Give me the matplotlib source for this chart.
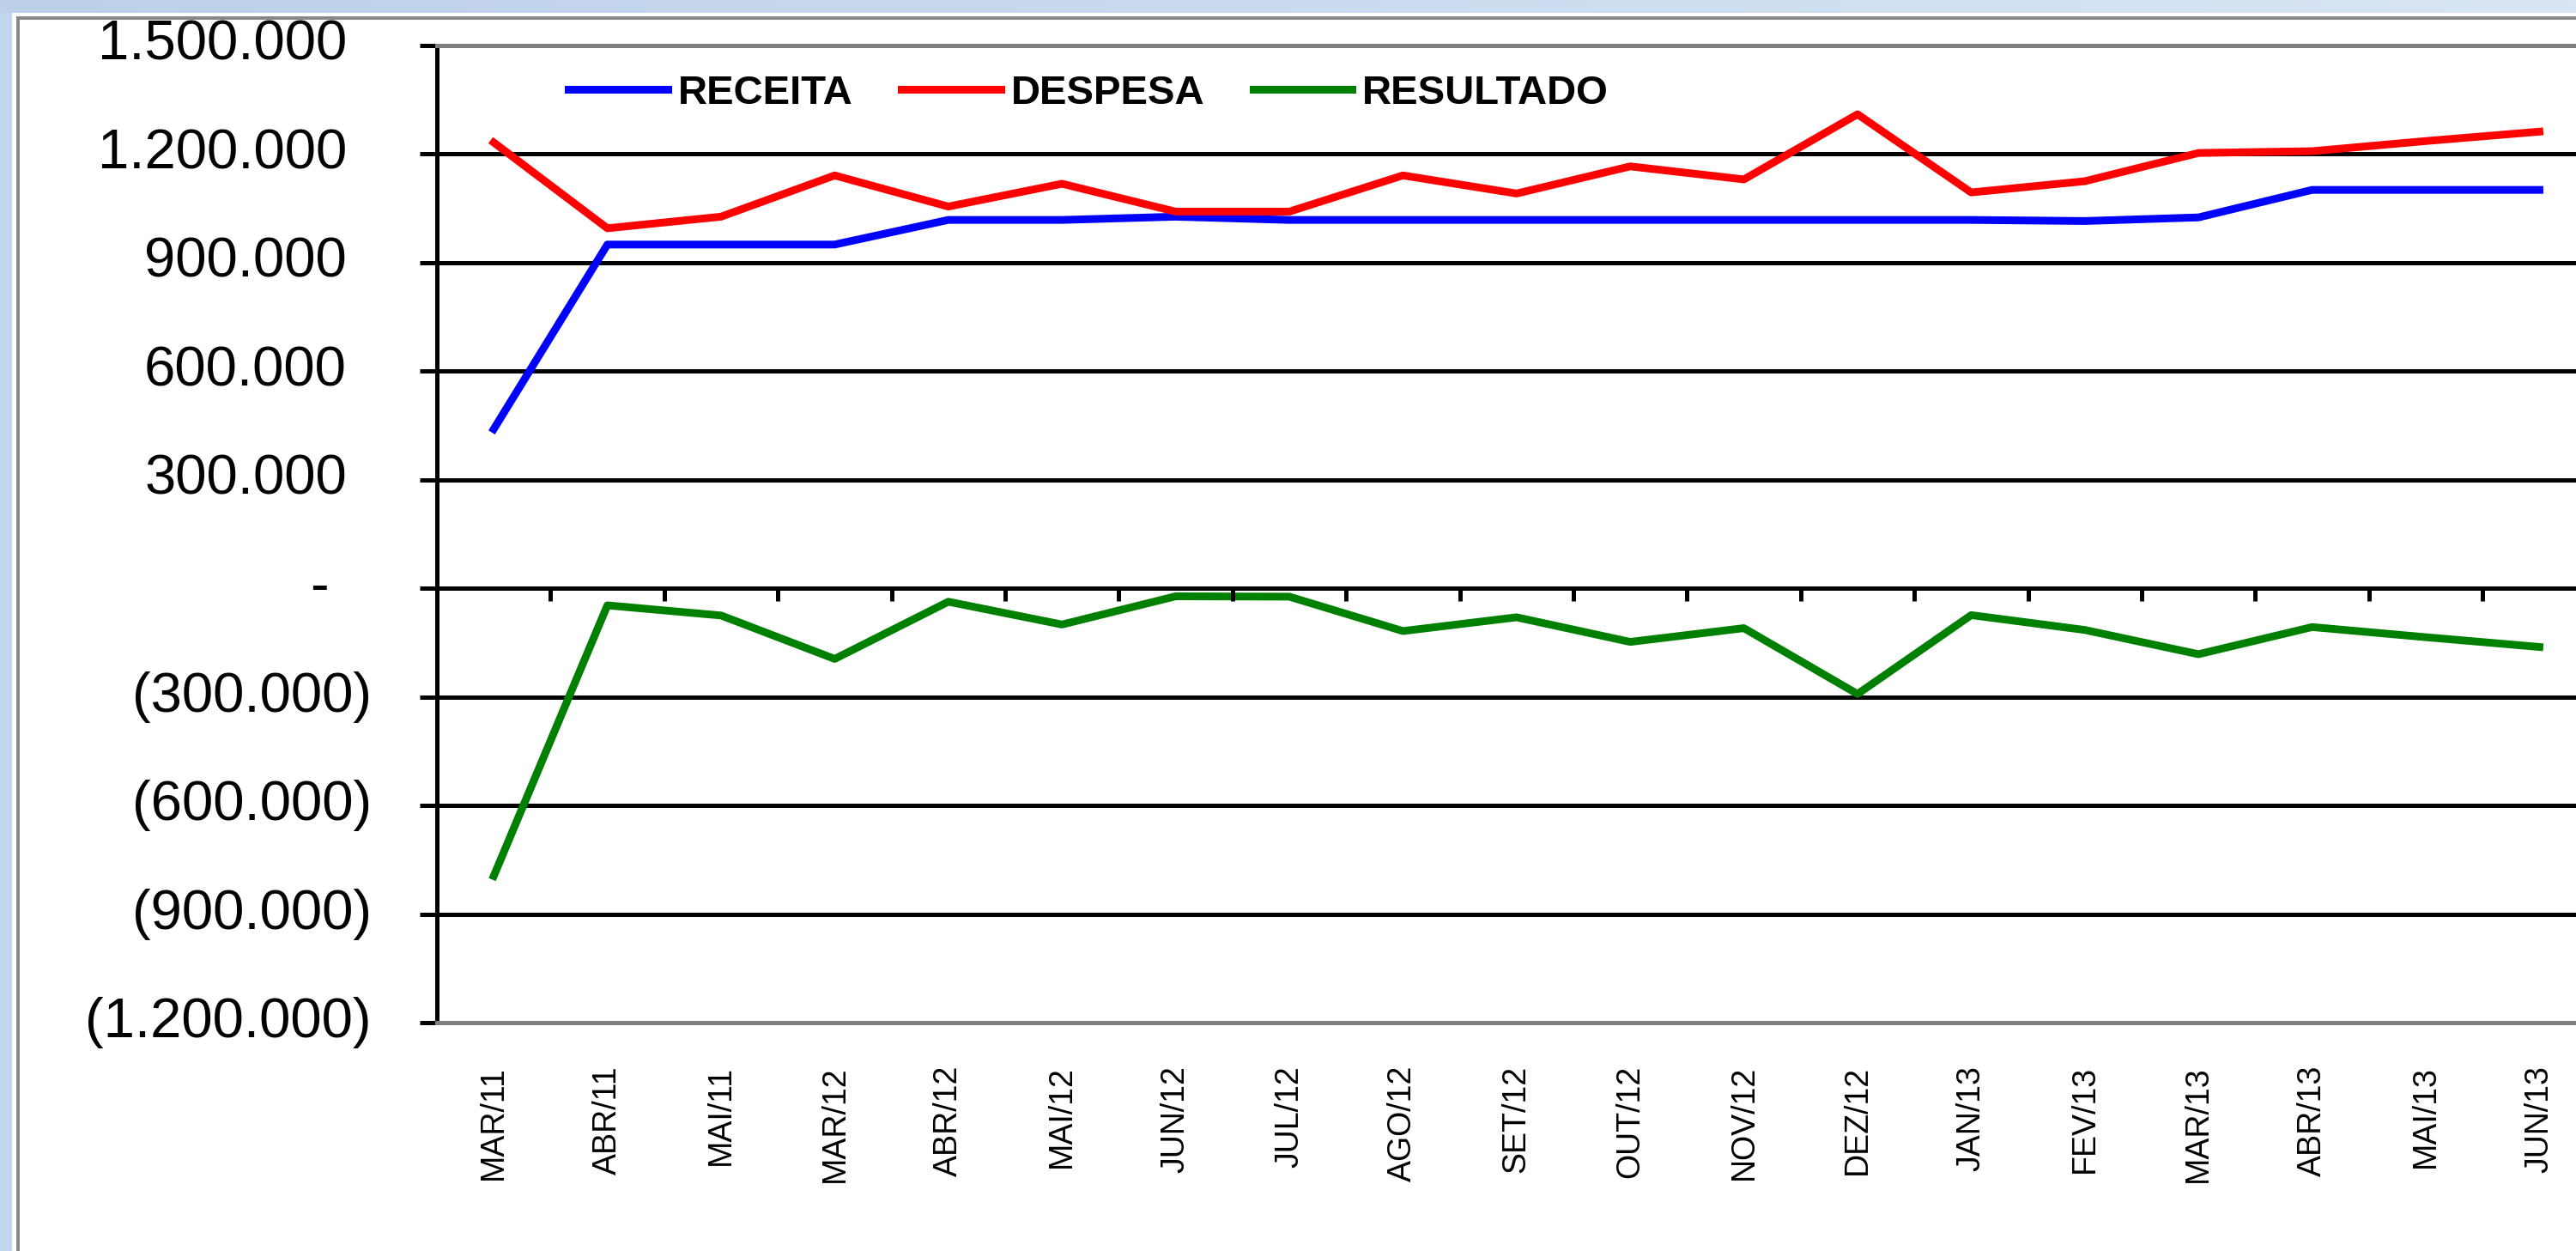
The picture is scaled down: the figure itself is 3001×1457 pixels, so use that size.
import numpy as np
import matplotlib
matplotlib.use("Agg")
import matplotlib.pyplot as plt
from matplotlib import font_manager
from matplotlib.patches import Rectangle
from matplotlib.colors import LinearSegmentedColormap
from matplotlib.ticker import FixedLocator

# Canvas size in pixels (figure drawn at dpi 100)
W, H = 3001, 1457
DPI = 100
PT = 72.0 / DPI  # pixels -> points

meses = ["MAR/11", "ABR/11", "MAI/11", "MAR/12", "ABR/12", "MAI/12", "JUN/12",
         "JUL/12", "AGO/12", "SET/12", "OUT/12", "NOV/12", "DEZ/12", "JAN/13",
         "FEV/13", "MAR/13", "ABR/13", "MAI/13", "JUN/13"]

receita = [440000, 950000, 950000, 950000, 1018000, 1018000, 1027000, 1018000,
           1018000, 1018000, 1018000, 1018000, 1018000, 1018000, 1015000,
           1025000, 1101000, 1101000, 1101000]

despesa = [1232000, 995000, 1027000, 1141000, 1055000, 1118000, 1041000, 1041000,
           1141000, 1091000, 1166000, 1130000, 1310000, 1094000, 1125000,
           1203000, 1208000, 1236000, 1262000]

resultado = [-795000, -47000, -75000, -195000, -37000, -100000, -22000, -23000,
             -118000, -80000, -148000, -110000, -292000, -74000, -115000,
             -182000, -107000, -135000, -162000]

y_ticks = [-1200000, -900000, -600000, -300000, 0, 300000, 600000, 900000,
           1200000, 1500000]


def fmt_contabil(v):
    """Excel accounting style: 1.200.000 / (300.000) / -"""
    if v == 0:
        return "-"
    s = f"{abs(v):,}".replace(",", ".")
    return f"({s})" if v < 0 else s


font_names = {f.name for f in font_manager.fontManager.ttflist}
if "Liberation Sans Narrow" in font_names:
    xfont, xsize = "Liberation Sans Narrow", 31
else:
    xfont, xsize = "Liberation Sans", 27

fig = plt.figure(figsize=(W / DPI, H / DPI), dpi=DPI, facecolor="#C3D5EC")

# window chrome: light blue strip on top, white chart area with grey border
fig.patches.append(Rectangle((14 / W, -0.1), 1.0, 1.1 - 15 / H,
                             transform=fig.transFigure, facecolor="white",
                             edgecolor="none", zorder=-2))
fig.patches.append(Rectangle((21 / W, -0.1), 1.0, 1.1 - 21 / H,
                             transform=fig.transFigure, fill=False,
                             edgecolor="#888888", lw=4 * PT, zorder=-1))
bg = fig.add_axes([0, 1 - 15 / H, 1, 15 / H])
bg.imshow(np.linspace(0, 1, 256)[None, :], aspect="auto",
          cmap=LinearSegmentedColormap.from_list("win", ["#BDD0EA", "#D9E5F4"]))
bg.axis("off")

# plot area (runs past the right edge, as in the cropped screenshot)
cat_w = 132.4
rect = [509 / W, 1 - 1191 / H, len(meses) * cat_w / W, (1191 - 53) / H]
ax = fig.add_axes(rect)
ax.set_facecolor("none")

x = np.arange(len(meses))
lw = 9 * PT
ax.plot(x, receita, color="#0000FF", lw=lw, label="RECEITA")
ax.plot(x, despesa, color="#FF0000", lw=lw, label="DESPESA")
ax.plot(x, resultado, color="#008000", lw=lw, label="RESULTADO")

xlim = (-0.5, len(meses) - 0.5)
ylim = (y_ticks[0], y_ticks[-1])
ax.set_xlim(*xlim)
ax.set_ylim(*ylim)
ax.set_yticks(y_ticks)
ax.set_axisbelow(True)
ax.yaxis.grid(True, color="black", lw=5 * PT)

for side in ["top", "bottom", "right"]:
    ax.spines[side].set_color("#808080")
    ax.spines[side].set_linewidth(5 * PT)
ax.spines["left"].set_color("black")
ax.spines["left"].set_linewidth(5 * PT)

ax.tick_params(axis="y", direction="out", length=20 * PT, width=5 * PT,
               labelleft=False)
ax.set_xticks(x)
ax.set_xticklabels(meses, rotation=90, fontsize=xsize, family=xfont)
ax.tick_params(axis="x", length=0, pad=50 * PT)

# y labels, accounting-style alignment (digits vs closing parenthesis)
ytr = ax.get_yaxis_transform()
ax_w = len(meses) * cat_w
for v in y_ticks:
    if v > 0:
        right_px = 404
    elif v < 0:
        right_px = 433
    else:
        right_px = 383
    ax.text((right_px - 509) / ax_w, v, fmt_contabil(v), transform=ytr,
            ha="right", va="center", fontsize=47, family="Liberation Sans",
            color="black", clip_on=False)

# category axis crossing at zero, tick marks between categories
ax2 = fig.add_axes(rect)
ax2.set_xlim(*xlim)
ax2.set_ylim(*ylim)
ax2.patch.set_visible(False)
for side in ["top", "left", "right"]:
    ax2.spines[side].set_visible(False)
ax2.spines["bottom"].set_position(("data", 0))
ax2.spines["bottom"].set_color("black")
ax2.spines["bottom"].set_linewidth(5 * PT)
ax2.xaxis.set_major_locator(FixedLocator(np.arange(len(meses) + 1) - 0.5))
ax2.tick_params(axis="x", direction="out", length=15 * PT, width=5 * PT,
                labelbottom=False)
ax2.set_yticks([])

leg = ax.legend(ncol=3, loc="center left", bbox_to_anchor=(662 / W, 1 - 109 / H),
                bbox_transform=fig.transFigure, frameon=False, borderpad=0,
                borderaxespad=0, handlelength=2.45, handletextpad=0.25,
                columnspacing=1.2,
                prop=dict(family="Liberation Sans", weight="bold", size=34))

fig.savefig("out.png", dpi=DPI, facecolor=fig.get_facecolor())
